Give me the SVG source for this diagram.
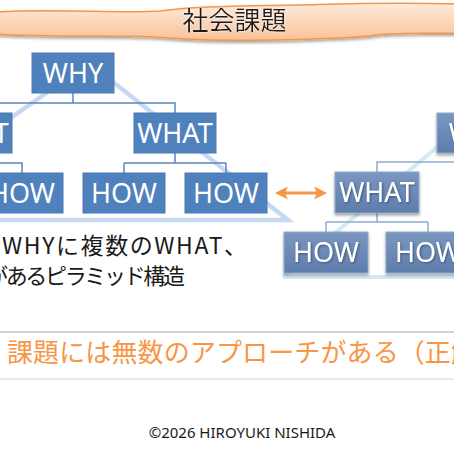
<svg xmlns="http://www.w3.org/2000/svg" width="454" height="454" viewBox="0 0 454 454">
<defs>
<linearGradient id="ban" x1="0" y1="0" x2="0" y2="1">
<stop offset="0" stop-color="#FDEBDD"/>
<stop offset="1" stop-color="#FAC297"/>
</linearGradient>
<linearGradient id="rb" x1="0" y1="0" x2="0" y2="1">
<stop offset="0" stop-color="#7A97C1"/>
<stop offset="1" stop-color="#5E7DAB"/>
</linearGradient>
<filter id="sh" x="-20%" y="-40%" width="140%" height="180%">
<feDropShadow dx="0" dy="2" stdDeviation="1.5" flood-color="#000" flood-opacity="0.35"/>
</filter>
<filter id="tsh" x="-20%" y="-40%" width="140%" height="180%">
<feDropShadow dx="1" dy="1" stdDeviation="0.8" flood-color="#203050" flood-opacity="0.6"/>
</filter>
<filter id="glow" x="-10%" y="-30%" width="120%" height="160%">
<feDropShadow dx="0" dy="0" stdDeviation="1" flood-color="#fff" flood-opacity="0.9"/>
</filter>
</defs>
<style>
.lb{fill:#4F81BD;stroke:#4A7AB4;stroke-width:1}
.rbx{fill:url(#rb);stroke:#8EA8CC;stroke-width:1;filter:url(#sh)}
.bt{font-family:"Noto Sans","Open Sans",sans-serif;font-size:27px;fill:#fff;text-anchor:middle}
.rt{filter:url(#tsh)}
.lc{fill:none;stroke:#5B86BE;stroke-width:1.5}
.rc{fill:none;stroke:#93ACCF;stroke-width:1.5}
.jp{font-family:"Noto Sans CJK JP","Noto Sans",sans-serif}
</style>
<rect width="454" height="454" fill="#fff"/>

<g id="banner">
<path d="M-5,12 C60,8 120,14 160,11 C200,5 260,6 300,5 C340,4 380,2 460,4 L460,33 C420,34 390,32 370,36 C320,40 220,42 170,38 C130,34 60,38 -5,34 Z" fill="url(#ban)" stroke="#F79646" stroke-width="1.5" filter="url(#sh)"/>
<text x="234.5" y="30" class="jp" font-size="26" fill="#1A1A1A" text-anchor="middle" filter="url(#glow)">社会課題</text>
</g>

<g id="pyramids">
<polyline points="-135,220 89,63 288,220 -135,220" fill="none" stroke="#C6D9F1" stroke-width="4.5" stroke-linejoin="miter"/>
<polyline points="283,277 448,138 600,277 283,277" fill="none" stroke="#D2EAF1" stroke-width="4"/>
</g>

<g id="connectors">
<path class="lc" d="M73,93 V103 M-29,103 H175 V113 M-29,103 V113"/>
<path class="lc" d="M175,153 V163 M124,163 H226 M124,163 V173 M226,163 V173"/>
<path class="lc" d="M-29,153 V163 H22 V173 M-29,163 H-60"/>
<path class="rc" d="M479,153 V162 H377 V172"/>
<path class="rc" d="M377,213 V222 M326,222 H428 M326,222 V232 M428,222 V232"/>
<g id="double-arrow" fill="#F79646" stroke="none">
<rect x="285" y="191.5" width="32" height="3"/>
<polygon points="275,193 288,186.5 285,193 288,199.5"/>
<polygon points="327,193 314,186.5 317,193 314,199.5"/>
</g>
</g>

<g id="why-left"><rect class="lb" x="32" y="53" width="82" height="40"/><text class="bt" x="73" y="83">WHY</text></g>
<g id="what-left-a"><rect class="lb" x="-70" y="113" width="82" height="40"/><text class="bt" x="-29" y="143">WHAT</text></g>
<g id="what-left-b"><rect class="lb" x="134" y="113" width="82" height="40"/><text class="bt" x="175" y="143">WHAT</text></g>
<g id="how-left-a"><rect class="lb" x="-19" y="173" width="82" height="40"/><text class="bt" x="22" y="203">HOW</text></g>
<g id="how-left-b"><rect class="lb" x="83" y="173" width="82" height="40"/><text class="bt" x="124" y="203">HOW</text></g>
<g id="how-left-c"><rect class="lb" x="185" y="173" width="82" height="40"/><text class="bt" x="226" y="203">HOW</text></g>

<g id="why-right"><rect class="rbx" x="437" y="113" width="84" height="40"/><text class="bt rt" x="479" y="143">WHY</text></g>
<g id="what-right"><rect class="rbx" x="335" y="172" width="84" height="41"/><text class="bt rt" x="377" y="202">WHAT</text></g>
<g id="how-right-a"><rect class="rbx" x="284" y="232" width="84" height="41"/><text class="bt rt" x="326" y="262">HOW</text></g>
<g id="how-right-b"><rect class="rbx" x="386" y="232" width="84" height="41"/><text class="bt rt" x="428" y="262">HOW</text></g>

<g id="caption">
<text class="jp" x="2" y="254" font-size="23" fill="#1A1A1A" textLength="245" lengthAdjust="spacing">WHYに複数のWHAT、</text>
<text class="jp" x="-14" y="284" font-size="22" fill="#1A1A1A" textLength="199" lengthAdjust="spacing">があるピラミッド構造</text>
</g>

<g id="message">
<line x1="-5" y1="332" x2="460" y2="332" stroke="#C4C4C4" stroke-width="1.5"/>
<line x1="-5" y1="379" x2="460" y2="379" stroke="#E2E2E2" stroke-width="1.5"/>
<text class="jp" x="7" y="362" font-size="26" fill="#F79646" textLength="470" lengthAdjust="spacing">課題には無数のアプローチがある（正解</text>
</g>

<text x="242" y="438" font-family="'Noto Sans','Open Sans',sans-serif" font-size="15" fill="#1A1A1A" text-anchor="middle">©2026 HIROYUKI NISHIDA</text>
</svg>
